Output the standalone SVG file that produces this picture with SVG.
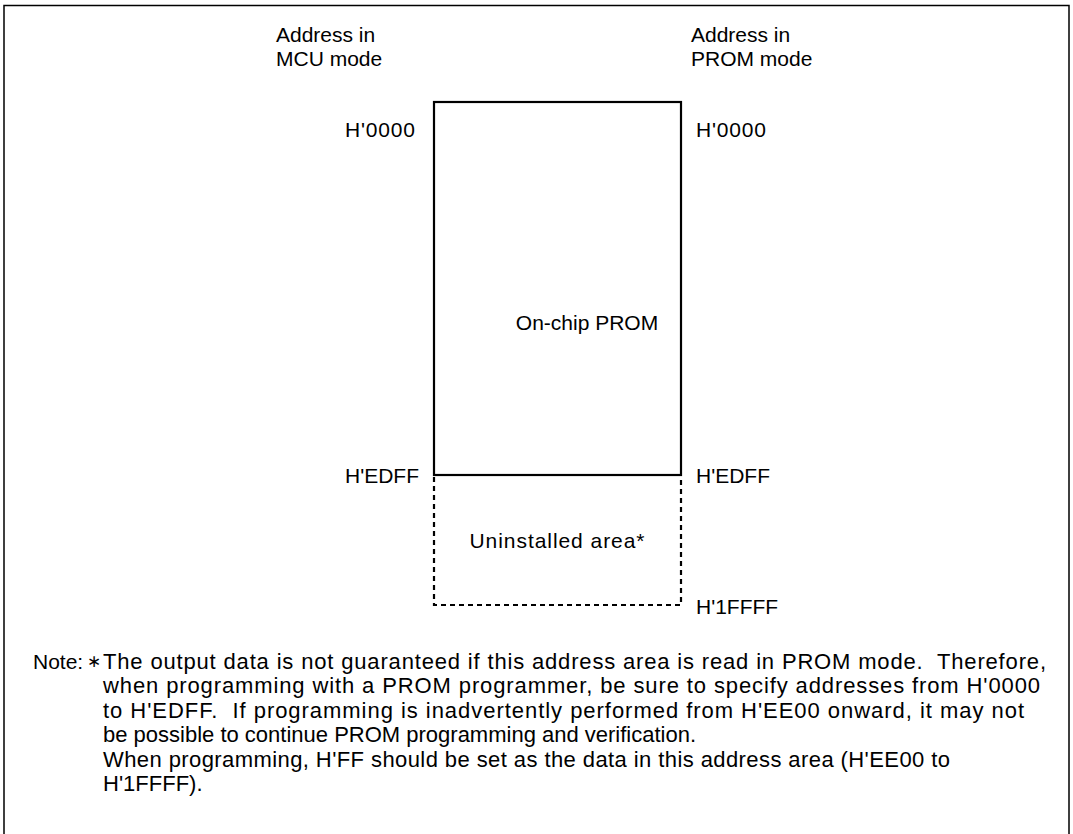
<svg xmlns="http://www.w3.org/2000/svg" width="1073" height="834" viewBox="0 0 1073 834">
<style>
text{font-family:"Liberation Sans",Arial,sans-serif;font-size:21px;fill:#000;white-space:pre}
.nt{font-size:22px}
.ast{font-size:17px}
.frame{fill:none;stroke:#000;stroke-width:1.5}
.solid{fill:none;stroke:#000;stroke-width:2.2}
.dash{fill:none;stroke:#000;stroke-width:2.2;stroke-dasharray:5 4}
</style>
<rect width="1073" height="834" fill="#fff"/>
<path class="frame" d="M4,840 V5.5 H1069 V840"/>
<g id="labels">
<text x="276" y="42">Address in</text>
<text x="276" y="66">MCU mode</text>
<text x="691" y="42">Address in</text>
<text x="691" y="66">PROM mode</text>
<text x="345" y="137" textLength="70">H'0000</text>
<text x="696" y="137" textLength="70">H'0000</text>
<text x="345" y="483">H'EDFF</text>
<text x="696" y="483">H'EDFF</text>
<text x="696" y="614">H'1FFFF</text>
</g>
<g id="prom">
<rect class="solid" x="434" y="102" width="247" height="373"/>
<text x="587" y="330" text-anchor="middle">On-chip PROM</text>
</g>
<g id="uninstalled">
<path class="dash" d="M434,477 V605 H681 V477"/>
<text x="557" y="548" text-anchor="middle" textLength="175">Uninstalled area*</text>
</g>
<g id="note" xml:space="preserve">
<text x="33" y="669">Note:</text>
<text class="ast" x="87" y="667">∗</text>
<text class="nt" x="103" y="669" textLength="943" lengthAdjust="spacing">The output data is not guaranteed if this address area is read in PROM mode.  Therefore,</text>
<text class="nt" x="103" y="693" textLength="937" lengthAdjust="spacing">when programming with a PROM programmer, be sure to specify addresses from H'0000</text>
<text class="nt" x="103" y="718" textLength="921" lengthAdjust="spacing">to H'EDFF.  If programming is inadvertently performed from H'EE00 onward, it may not</text>
<text class="nt" x="103" y="742">be possible to continue PROM programming and verification.</text>
<text class="nt" x="103" y="767" textLength="847" lengthAdjust="spacing">When programming, H'FF should be set as the data in this address area (H'EE00 to</text>
<text class="nt" x="103" y="791">H'1FFFF).</text>
</g>
</svg>
